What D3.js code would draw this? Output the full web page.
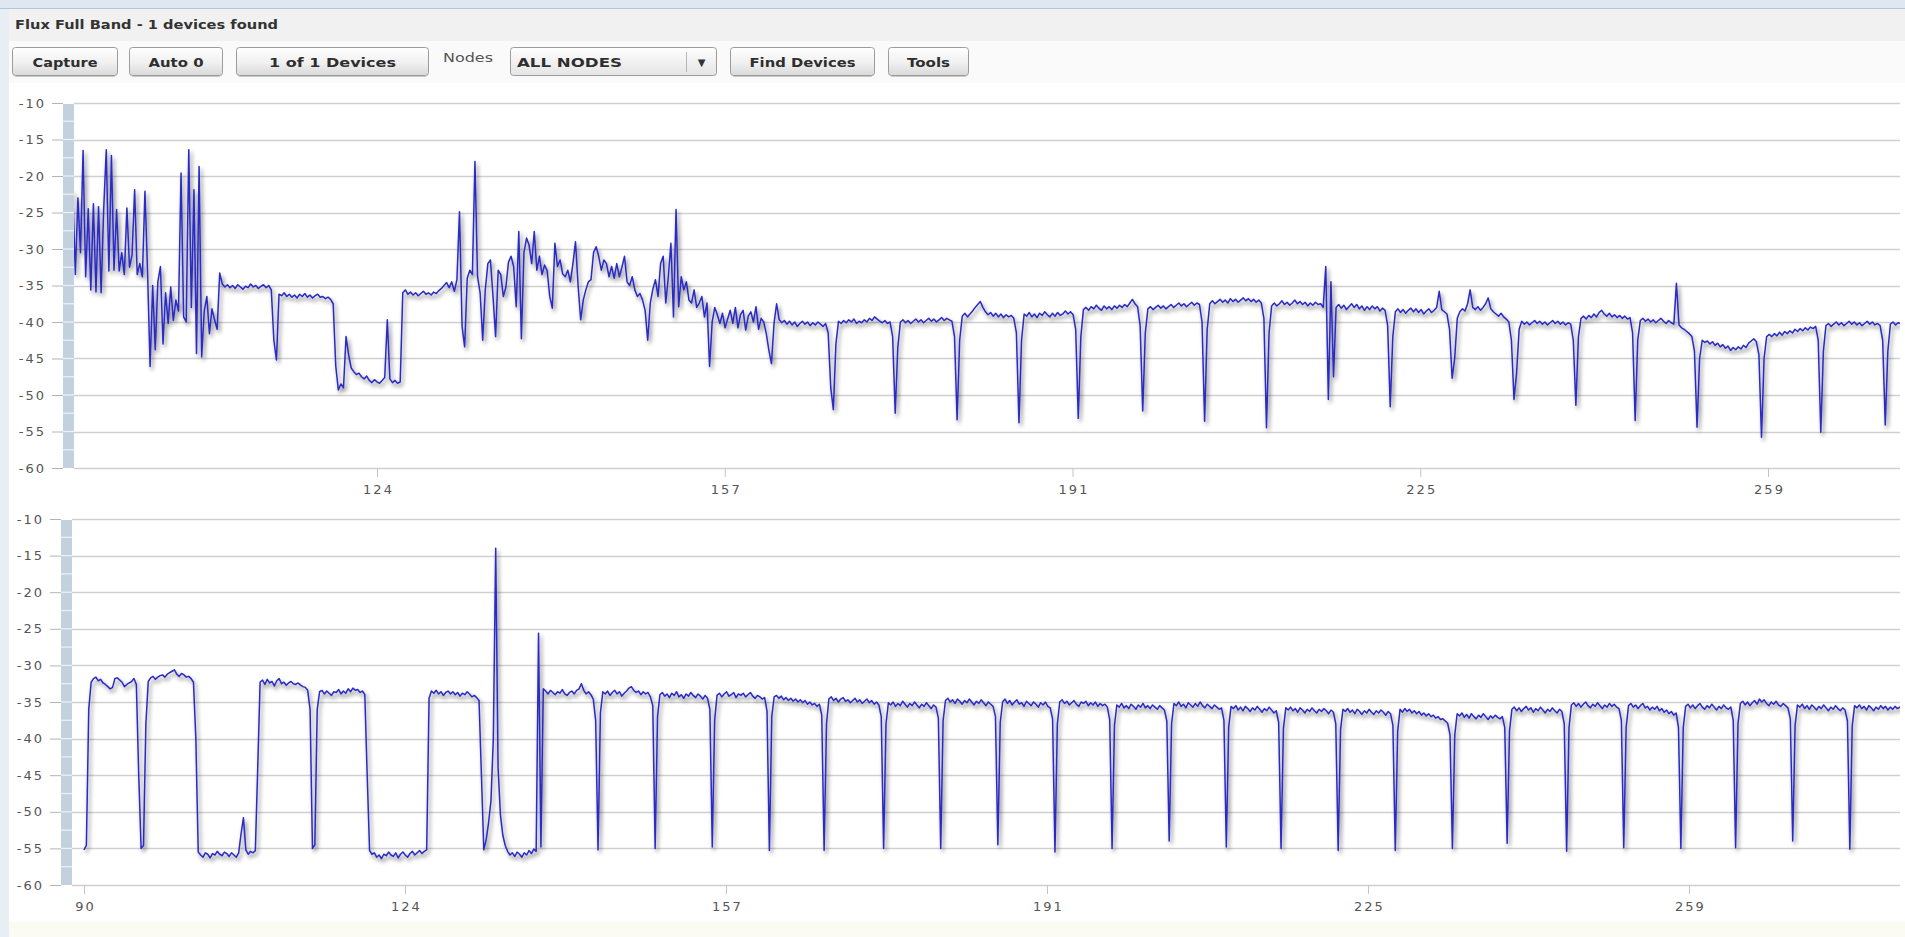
<!DOCTYPE html>
<html><head><meta charset="utf-8">
<script src="https://cdn.jsdelivr.net/npm/d3@7"></script>
<style>
html,body{margin:0;padding:0;background:#fff;overflow:hidden}
svg{display:block}
</style></head><body>
<svg id="c" width="1905" height="937"></svg>
<script>
// ---------------- DATA ----------------
const titleText = "Flux Full Band - 1 devices found";
const buttonLabels = ["Capture", "Auto 0", "1 of 1 Devices", "Find Devices", "Tools"];
const nodesLabel = "Nodes";
const dropdownLabel = "ALL NODES";

const yTickValues = [-10, -15, -20, -25, -30, -35, -40, -45, -50, -55, -60];
const xTickValues = [90, 123.72, 157.44, 191.16, 224.88, 258.6];
const xTickLabels = ["90", "124", "157", "191", "225", "259"];
const sampleStep = 0.25;

// each entry: [x of first sample, samples (dB) every sampleStep]
const topTrace = [
 [94.22, [-22.0,-33.5,-23.0,-30.5,-16.5,-33.8,-24.5,-35.6,-23.8,-35.9,-24.2,-36.0,-24.5,-16.4,-33.0,-17.2,-32.9,-24.6,-33.0,-30.5,-33.5,-24.4,-32.5,-30.8,-21.9,-33.5,-32.0,-33.8,-22.1,-33.0,-46.1,-35.0,-43.8,-34.5,-32.4,-43.0,-36.0,-40.2,-35.2,-39.8,-37.0,-38.5,-19.6,-39.3,-40.0,-16.4,-38.0,-21.9,-44.3,-18.7,-44.8,-38.5,-36.5,-41.6,-38.2,-39.7,-41.0]],
 [108.47, [-33.3,-34.8,-35.2,-34.9,-35.3,-35.0,-35.4,-34.9,-35.2,-35.5,-35.1,-35.3,-34.8,-35.2,-35.0,-35.4,-35.1,-34.9,-35.3,-35.0,-35.6,-42.5,-45.2,-36.2,-36.4,-36.0,-36.5,-36.2,-36.6,-36.3,-36.7,-36.2,-36.5,-36.1,-36.6,-36.3,-36.7,-36.4,-36.2,-36.6,-36.5,-36.8,-36.6,-36.9,-37.5,-46.0,-49.3,-48.5,-49.0,-42.0,-44.5,-46.3,-46.8,-47.2,-47.0,-47.5,-47.8,-47.4,-48.0,-48.3,-47.9,-48.2,-48.4,-48.0,-47.6,-39.7,-47.8,-48.3,-48.0,-48.4,-48.2]],
 [126.22, [-36.0,-35.6,-36.2,-35.9,-36.3,-36.0,-36.4,-36.1,-35.8,-36.2,-36.0,-36.3,-35.9,-36.1,-35.7,-35.4,-35.0,-34.6,-35.3,-34.5,-35.8,-34.2]],
 [131.72, [-24.9,-40.6,-43.4,-34.0,-32.9,-33.5,-18.0,-33.8,-36.0,-42.5,-35.6,-32.0,-31.5,-36.5,-42.0,-32.9,-33.5,-36.5,-35.2,-31.8,-31.0,-32.4,-37.9,-27.6,-42.3,-30.5,-28.5,-29.5,-32.0,-27.6,-32.9,-31.0,-33.5,-32.2,-33.0,-36.5,-38.1,-29.2,-32.4,-31.5,-33.4,-33.8,-32.9,-34.5,-32.0,-29.0,-35.0,-39.7,-37.0,-35.6,-34.5,-34.2,-30.5,-29.7,-31.0,-32.9,-31.5,-32.0,-33.8,-32.4,-34.0,-32.0,-33.8,-32.5,-31.0,-34.5,-35.0,-33.8,-35.6,-36.5,-36.1,-37.0,-38.4,-42.5,-37.4,-35.5,-34.2,-36.5,-32.0,-31.0,-37.4,-33.8,-29.2,-39.3,-24.6,-37.9,-33.8,-35.6,-34.5,-37.0,-37.4,-35.6,-38.0,-37.4,-36.5,-39.3,-37.4,-46.1,-40.0,-38.0,-39.0,-40.2,-38.8,-40.8,-39.6,-38.4,-40.2,-38.0,-40.8,-39.0,-38.4,-41.1,-39.2,-38.6,-40.0,-37.9,-41.0,-39.5,-40.0,-41.6,-43.9,-45.7,-40.2,-37.5]],
 [162.72, [-39.7,-40.1,-39.8,-40.3,-39.9,-40.4,-40.0,-40.6,-40.2,-39.9,-40.3,-40.0,-40.5,-40.1,-40.4,-40.0,-40.3,-40.6,-40.2,-41.5,-49.0]],
 [167.97, [-52.0,-43.0,-39.9,-40.2,-39.8,-40.1,-39.7,-40.0,-39.6,-40.2,-39.9,-40.1,-39.7,-40.0,-39.5,-39.8,-39.3,-39.6,-39.9,-40.1,-39.8,-40.2,-40.0,-42.0]],
 [173.97, [-52.5,-43.5,-40.0,-39.7,-40.1,-39.8,-40.2,-39.9,-39.6,-40.0,-39.7,-40.1,-39.8,-39.5,-39.9,-39.6,-40.0,-39.7,-39.4,-39.8,-39.5,-39.7,-39.9,-42.0]],
 [179.97, [-53.4,-42.5,-39.2,-38.8,-39.3,-38.9,-38.5,-38.0,-37.6,-37.2,-38.0,-38.6,-39.0,-38.7,-39.2,-38.8,-39.3,-38.9,-39.4,-39.0,-39.3,-39.1,-39.5,-41.5]],
 [185.97, [-53.8,-42.5,-38.9,-39.2,-38.7,-39.3,-38.9,-39.4,-38.8,-39.1,-38.6,-39.0,-39.3,-38.8,-39.2,-38.7,-39.1,-38.9,-38.5,-38.9,-38.6,-39.0,-41.0]],
 [191.72, [-53.2,-42.0,-38.3,-38.0,-38.4,-37.9,-38.2,-37.7,-38.1,-38.4,-37.8,-38.2,-37.9,-38.3,-37.8,-38.1,-37.7,-38.0,-37.6,-37.9,-37.4,-36.9,-37.5,-37.9,-40.5]],
 [197.97, [-52.2,-41.5,-38.2,-37.9,-38.3,-38.0,-37.7,-38.1,-37.8,-38.2,-37.9,-37.6,-38.0,-37.7,-37.4,-37.8,-37.5,-37.9,-37.6,-37.3,-37.7,-37.4,-37.6,-40.0]],
 [203.97, [-53.6,-41.0,-37.5,-37.1,-37.5,-37.2,-36.9,-37.3,-37.0,-37.4,-36.8,-37.2,-36.9,-37.3,-37.0,-36.7,-37.1,-36.8,-37.2,-36.9,-37.3,-37.0,-37.4,-39.5]],
 [209.97, [-54.5,-41.5,-37.8,-37.4,-37.8,-37.5,-37.1,-37.6,-37.3,-37.7,-37.4,-37.0,-37.5,-37.2,-37.6,-37.3,-37.8,-37.4,-37.7,-37.3,-37.6,-37.5,-38.0]],
 [215.72, [-32.4,-50.6,-34.5,-47.5,-38.0,-37.6,-38.1,-37.7,-38.3,-37.9,-37.5,-38.0,-37.6,-38.2,-37.8,-38.4,-37.9,-38.3,-37.8,-38.2,-37.9,-38.5,-38.1,-38.4,-40.5]],
 [221.97, [-51.6,-42.0,-38.6,-38.2,-38.7,-38.3,-38.8,-38.4,-38.1,-38.6,-38.2,-38.7,-38.3,-38.9,-38.5,-38.2,-38.7,-38.4,-38.0,-35.8,-38.3,-38.6,-38.9,-41.0]],
 [227.97, [-47.7,-45.0,-39.5,-38.6,-38.2,-38.5,-37.5,-35.6,-38.0,-38.3,-37.9,-38.4,-38.0,-37.5,-36.7,-38.2,-38.6,-38.9,-39.2,-38.8,-39.3,-39.6,-40.0,-42.5]],
 [233.97, [-50.6,-47.0,-41.0,-39.9,-40.3,-40.0,-40.4,-40.1,-39.8,-40.2,-39.9,-40.3,-40.0,-40.4,-40.1,-39.8,-40.2,-39.9,-40.3,-40.0,-40.4,-40.1,-40.3,-42.5]],
 [239.97, [-51.4,-42.0,-39.5,-39.2,-39.6,-39.1,-39.4,-38.9,-39.3,-38.7,-38.4,-38.9,-39.2,-38.8,-39.3,-39.0,-39.4,-39.1,-39.5,-39.2,-39.6,-39.4,-41.5]],
 [245.72, [-53.5,-42.5,-39.8,-39.5,-39.9,-39.6,-40.0,-39.7,-40.1,-39.8,-39.5,-39.9,-40.2,-39.8,-40.1,-40.3,-34.7,-40.4,-40.8,-41.0,-41.3,-41.6,-42.0,-44.0]],
 [251.72, [-54.4,-45.0,-42.5,-42.8,-42.6,-43.0,-42.7,-43.2,-42.9,-43.4,-43.1,-43.6,-43.3,-43.9,-43.5,-43.8,-43.4,-43.7,-43.2,-43.5,-42.9,-42.6,-42.3,-42.7,-44.5]],
 [257.97, [-55.8,-45.0,-42.0,-41.7,-42.0,-41.6,-41.9,-41.4,-41.8,-41.3,-41.6,-41.2,-41.5,-41.0,-41.3,-40.9,-41.2,-40.8,-41.1,-40.7,-40.9,-40.6,-42.5]],
 [263.72, [-55.1,-44.0,-40.5,-40.2,-40.6,-40.3,-40.0,-40.4,-40.1,-40.5,-40.2,-39.9,-40.3,-40.0,-40.4,-40.1,-40.5,-40.2,-39.9,-40.3,-40.0,-40.4,-40.2,-40.5,-42.5]],
 [269.97, [-54.1,-44.0,-40.3,-40.0,-40.4,-40.1,-40.2]]
];

const bottomTrace = [
 [90.0, [-55.2,-54.6,-36.0,-32.3,-31.8,-31.6,-32.1,-31.9,-32.4,-32.6,-32.9,-33.2,-33.0,-31.8,-31.7,-32.0,-32.3,-32.9,-32.6,-32.4,-32.2,-31.8,-32.6,-45.0]],
 [96.0, [-55.0,-54.6,-38.0,-32.2,-31.7,-31.5,-31.9,-31.6,-31.4,-31.3,-31.6,-31.2,-31.0,-30.8,-30.6,-31.2,-31.5,-31.1,-31.3,-31.6,-31.5,-31.8,-32.3,-40.0]],
 [102.0, [-55.5,-55.9,-56.2,-55.6,-55.8,-56.3,-55.7,-55.9,-55.4,-55.8,-56.0,-55.5,-55.7,-56.1,-55.6,-55.9,-56.2,-55.6,-53.0,-50.8,-55.2,-55.8,-55.4,-55.6]],
 [108.0, [-55.3,-44.0,-32.3,-32.0,-32.6,-31.9,-32.4,-32.2,-32.8,-32.1,-31.8,-32.5,-32.3,-32.7,-32.4,-32.2,-32.5,-32.6,-32.4,-32.7,-32.9,-33.0,-33.4,-36.0]],
 [114.0, [-55.0,-54.5,-36.0,-33.6,-33.4,-33.9,-33.5,-33.8,-34.1,-33.6,-33.7,-33.3,-33.9,-33.5,-33.8,-33.2,-33.6,-33.1,-33.4,-33.3,-33.7,-33.5,-34.0,-45.0]],
 [120.0, [-55.3,-55.8,-55.6,-56.2,-55.9,-56.4,-55.8,-56.0,-55.5,-55.9,-56.1,-55.6,-56.3,-55.8,-55.5,-55.9,-56.2,-55.7,-55.4,-55.9,-55.6,-55.3,-55.7,-55.4]],
 [126.0, [-55.2,-34.5,-33.5,-33.8,-33.4,-33.9,-33.6,-34.1,-33.7,-33.5,-33.9,-33.6,-34.0,-33.7,-34.2,-33.8,-34.0,-33.6,-33.9,-34.3,-34.1,-34.4,-34.8,-45.0]],
 [132.0, [-55.2,-53.8,-51.5,-48.5,-40.0,-14.0,-44.0,-50.5,-53.2,-54.6,-55.4,-55.9,-55.6,-56.1,-55.5,-55.8,-56.2,-55.6,-55.9,-55.3,-55.7,-55.1,-55.4,-25.6]],
 [138.0, [-54.8,-33.2,-33.5,-33.9,-33.4,-33.7,-34.0,-33.6,-33.8,-33.3,-33.9,-34.1,-33.7,-33.5,-33.9,-33.4,-33.2,-32.5,-33.4,-33.9,-33.6,-34.0,-34.6,-37.5]],
 [144.0, [-55.2,-36.5,-33.6,-33.9,-33.5,-34.1,-33.7,-33.4,-33.9,-33.6,-34.2,-33.8,-33.5,-33.1,-32.9,-33.4,-33.7,-33.5,-34.0,-33.6,-33.9,-33.7,-34.3,-35.5]],
 [150.0, [-55.0,-37.0,-34.0,-33.7,-34.2,-33.9,-34.4,-33.8,-34.1,-33.6,-34.3,-34.0,-34.5,-33.9,-34.2,-33.7,-34.1,-34.4,-33.9,-34.2,-34.6,-34.1,-34.5,-36.0]],
 [156.0, [-54.8,-37.5,-34.1,-33.8,-34.3,-33.9,-33.6,-34.2,-34.0,-33.7,-34.4,-33.9,-34.1,-33.8,-34.3,-34.0,-33.7,-34.2,-34.5,-34.1,-34.3,-34.6,-34.4,-36.2]],
 [162.0, [-55.3,-37.0,-34.3,-34.1,-34.5,-34.2,-34.7,-34.4,-34.8,-34.5,-34.9,-34.6,-35.0,-34.7,-35.1,-34.8,-35.3,-35.0,-35.4,-35.2,-35.6,-35.3,-36.8]],
 [167.75, [-55.3,-38.0,-34.6,-34.3,-34.8,-34.5,-35.0,-34.6,-34.4,-34.9,-34.7,-35.1,-34.8,-34.5,-35.0,-34.7,-35.2,-34.9,-34.6,-35.1,-34.8,-35.3,-35.0,-35.4,-37.0]],
 [174.0, [-55.0,-38.0,-35.1,-35.4,-35.0,-35.6,-35.2,-35.5,-34.9,-35.3,-35.7,-35.2,-35.5,-35.0,-35.4,-35.8,-35.3,-35.6,-35.1,-35.5,-35.9,-35.4,-35.7,-37.2]],
 [180.0, [-55.0,-37.5,-34.8,-34.5,-35.0,-34.7,-35.2,-34.6,-34.9,-35.3,-34.8,-35.1,-34.6,-35.0,-35.4,-34.9,-35.2,-34.7,-35.1,-35.5,-35.0,-35.3,-35.6,-37.0]],
 [186.0, [-54.5,-37.8,-35.0,-34.6,-35.2,-34.8,-35.4,-35.0,-34.7,-35.3,-35.1,-35.6,-34.9,-35.2,-35.5,-35.0,-35.3,-35.7,-35.1,-35.4,-35.0,-35.6,-35.8,-37.3]],
 [192.0, [-55.5,-38.0,-35.0,-34.7,-35.2,-34.9,-35.4,-35.1,-34.8,-35.3,-35.6,-35.0,-35.2,-34.9,-35.5,-35.1,-35.4,-35.0,-35.6,-35.2,-35.5,-35.3,-35.7,-37.4]],
 [198.0, [-55.0,-38.2,-35.4,-35.7,-35.2,-35.8,-35.5,-35.9,-35.3,-35.6,-36.0,-35.4,-35.7,-35.2,-35.8,-35.5,-35.9,-35.4,-35.7,-36.0,-35.5,-35.8,-36.1,-37.6]],
 [204.0, [-54.0,-38.0,-35.2,-35.5,-35.0,-35.6,-35.3,-35.8,-35.1,-35.4,-35.7,-35.2,-35.6,-35.0,-35.5,-35.8,-35.3,-35.6,-35.9,-35.4,-35.7,-36.0,-35.8,-37.5]],
 [210.0, [-54.8,-38.4,-35.6,-35.9,-35.5,-36.1,-35.7,-36.2,-35.6,-35.9,-36.3,-35.8,-36.1,-35.6,-36.0,-36.4,-35.9,-36.2,-35.7,-36.1,-36.5,-36.2,-37.8]],
 [215.75, [-55.0,-38.6,-35.8,-36.1,-35.7,-36.2,-35.9,-36.4,-35.8,-36.1,-36.5,-36.0,-36.3,-35.8,-36.2,-36.5,-36.0,-36.3,-35.9,-36.2,-36.6,-36.1,-36.4,-38.0]],
 [221.75, [-55.3,-38.8,-36.0,-36.3,-35.9,-36.4,-36.1,-36.6,-36.0,-36.3,-36.7,-36.2,-36.5,-36.0,-36.4,-36.7,-36.2,-36.5,-36.1,-36.4,-36.8,-36.3,-36.6,-38.2]],
 [227.75, [-55.3,-39.0,-36.0,-36.4,-35.9,-36.3,-36.0,-36.5,-36.2,-36.6,-36.3,-36.8,-36.5,-36.9,-36.6,-37.0,-36.8,-37.2,-37.0,-37.4,-37.3,-37.6,-37.9,-39.5]],
 [233.75, [-55.0,-39.5,-36.6,-36.9,-36.5,-37.1,-36.7,-37.2,-36.6,-37.0,-37.3,-36.8,-37.1,-36.6,-37.0,-37.4,-36.9,-37.2,-36.8,-37.1,-37.3,-37.0,-38.5]],
 [239.5, [-54.3,-39.0,-36.0,-35.7,-36.2,-35.8,-36.3,-35.9,-35.6,-36.1,-35.8,-36.4,-35.9,-36.2,-35.7,-36.1,-36.5,-36.0,-36.3,-35.8,-36.2,-36.5,-36.0,-36.3,-38.0]],
 [245.75, [-55.4,-38.5,-35.4,-35.1,-35.6,-35.2,-35.7,-35.3,-35.0,-35.5,-35.8,-35.3,-35.6,-35.1,-35.5,-35.9,-35.4,-35.7,-35.2,-35.6,-35.3,-35.7,-35.9,-37.5]],
 [251.75, [-54.9,-38.5,-35.5,-35.2,-35.7,-35.4,-35.9,-35.5,-35.2,-35.8,-35.6,-36.1,-35.7,-36.0,-35.6,-36.2,-35.9,-36.4,-36.1,-36.6,-36.3,-36.8,-36.5,-38.5]],
 [257.75, [-55.0,-38.5,-35.6,-35.3,-35.8,-35.4,-35.9,-35.5,-35.2,-35.7,-36.0,-35.5,-35.8,-35.3,-35.7,-36.1,-35.6,-35.9,-35.4,-35.8,-36.0,-35.7,-37.5]],
 [263.5, [-54.9,-38.0,-35.2,-34.9,-35.4,-35.0,-35.5,-35.1,-34.8,-35.3,-34.6,-35.0,-34.7,-35.2,-35.5,-35.0,-35.3,-34.9,-35.4,-35.6,-35.2,-35.5,-35.8,-37.3]],
 [269.5, [-54.0,-38.2,-35.4,-35.7,-35.3,-35.9,-35.5,-36.0,-35.4,-35.7,-36.1,-35.6,-35.9,-35.4,-35.8,-36.2,-35.7,-36.0,-35.5,-35.9,-36.2,-35.8,-36.1,-37.6]],
 [275.5, [-55.1,-38.3,-35.5,-35.8,-35.4,-35.9,-35.6,-36.1,-35.5,-35.8,-36.2,-35.7,-36.0,-35.5,-35.9,-35.6,-36.1,-35.7,-36.0,-35.6,-35.9,-35.7,-36.0]]
];

// ---------------- LAYOUT ----------------
const charts = [
  {trace: topTrace, xDomain: [94.34, 271.4], left: 74, right: 1900, top: 103, bottom: 468, barX: 63},
  {trace: bottomTrace, xDomain: [88.74, 280.77], left: 72, right: 1900, top: 519, bottom: 885, barX: 61}
];
// widths measured on the reference for each text run
const buttonBoxes = [{x:12,w:105,tw:65},{x:129,w:93,tw:55},{x:236,w:192,tw:127},{x:730,w:144,tw:106},{x:888,w:80,tw:43}];

const FONT_UI = "'DejaVu Sans',Verdana,sans-serif";
const FONT_AX = "'DejaVu Sans',Verdana,sans-serif";

const svg = d3.select('#c');
const defs = svg.append('defs');
const g1 = defs.append('linearGradient').attr('id','btnGrad').attr('x1',0).attr('y1',0).attr('x2',0).attr('y2',1);
g1.append('stop').attr('offset','0%').attr('stop-color','#ffffff');
g1.append('stop').attr('offset','55%').attr('stop-color','#f0f0f0');
g1.append('stop').attr('offset','100%').attr('stop-color','#d9d9d9');
const g2 = defs.append('linearGradient').attr('id','ddGrad').attr('x1',0).attr('y1',0).attr('x2',0).attr('y2',1);
g2.append('stop').attr('offset','0%').attr('stop-color','#ffffff');
g2.append('stop').attr('offset','100%').attr('stop-color','#e4e4e4');

const f = defs.append('filter').attr('id','shadow').attr('filterUnits','userSpaceOnUse')
  .attr('x',0).attr('y',0).attr('width',1905).attr('height',937);
f.append('feGaussianBlur').attr('in','SourceAlpha').attr('stdDeviation',2).attr('result','b');
f.append('feOffset').attr('in','b').attr('dx',2).attr('dy',3).attr('result','o');
const ct = f.append('feComponentTransfer').attr('in','o').attr('result','o2');
ct.append('feFuncA').attr('type','linear').attr('slope',0.55);
const fm = f.append('feMerge');
fm.append('feMergeNode').attr('in','o2');
fm.append('feMergeNode').attr('in','SourceGraphic');

// ---------- page chrome ----------
svg.append('rect').attr('x',0).attr('y',0).attr('width',1905).attr('height',937).attr('fill','#ffffff');
svg.append('rect').attr('x',0).attr('y',0).attr('width',1905).attr('height',8).attr('fill','#dfe8f2');
svg.append('line').attr('x1',0).attr('x2',1905).attr('y1',8.5).attr('y2',8.5).attr('stroke','#b3c5d8');
svg.append('rect').attr('x',0).attr('y',9).attr('width',1905).attr('height',32).attr('fill','#f1f1f1');
svg.append('rect').attr('x',0).attr('y',41).attr('width',1905).attr('height',42).attr('fill','#fafafa');
svg.append('rect').attr('x',0).attr('y',9).attr('width',9).attr('height',928).attr('fill','#e8eef4');
svg.append('rect').attr('x',9).attr('y',922).attr('width',1896).attr('height',15).attr('fill','#fcfbf3');

svg.append('text').attr('x',15).attr('y',29).text(titleText)
  .attr('textLength',263).attr('lengthAdjust','spacingAndGlyphs')
  .attr('font-family',FONT_UI).attr('font-weight','bold').attr('font-size',13).attr('fill','#333');

// buttons
buttonBoxes.forEach((b,i) => {
  const gb = svg.append('g');
  gb.append('rect').attr('x',b.x+0.5).attr('y',47.5).attr('width',b.w).attr('height',28).attr('rx',3)
    .attr('fill','url(#btnGrad)').attr('stroke','#9c9c9c');
  gb.append('line').attr('x1',b.x+3).attr('x2',b.x+b.w-2).attr('y1',76.5).attr('y2',76.5).attr('stroke','#c8c8c8');
  gb.append('text').attr('x',b.x+0.5+(b.w-b.tw)/2).attr('y',66.5)
    .attr('textLength',b.tw).attr('lengthAdjust','spacingAndGlyphs')
    .text(buttonLabels[i]).attr('font-family',FONT_UI).attr('font-weight','bold').attr('font-size',13).attr('fill','#2e2e2e');
});
svg.append('text').attr('x',443).attr('y',62).text(nodesLabel)
  .attr('textLength',50).attr('lengthAdjust','spacingAndGlyphs')
  .attr('font-family',FONT_UI).attr('font-size',13).attr('fill','#555');
svg.append('rect').attr('x',510.5).attr('y',47.5).attr('width',206).attr('height',28).attr('rx',3)
  .attr('fill','url(#ddGrad)').attr('stroke','#9c9c9c');
svg.append('line').attr('x1',686.5).attr('x2',686.5).attr('y1',52).attr('y2',72).attr('stroke','#b5b5b5');
svg.append('text').attr('x',517).attr('y',66.5).text(dropdownLabel)
  .attr('textLength',105).attr('lengthAdjust','spacingAndGlyphs')
  .attr('font-family',FONT_UI).attr('font-weight','bold').attr('font-size',13).attr('fill','#2e2e2e');
svg.append('text').attr('x',701.5).attr('y',65.5).attr('text-anchor','middle').text('\u25BC')
  .attr('font-family',FONT_AX).attr('font-size',10).attr('fill','#333');

// ---------- charts ----------
const minorStripes = [];
for (let i = 1; i < 20; i++) minorStripes.push(-10 - i * 2.5);

charts.forEach((c, ci) => {
  const x = d3.scaleLinear().domain(c.xDomain).range([c.left, c.right]);
  const y = d3.scaleLinear().domain([-60, -10]).range([c.bottom, c.top]);
  const g = svg.append('g');

  // gridlines
  g.append('g').selectAll('line').data(yTickValues).join('line')
    .attr('x1', c.left).attr('x2', c.right)
    .attr('y1', d => Math.round(y(d)) + 0.5).attr('y2', d => Math.round(y(d)) + 0.5)
    .attr('stroke', '#d0d0d0').attr('stroke-width', 1.7);

  // side bar
  g.append('rect').attr('x', c.barX).attr('y', c.top + 1).attr('width', c.left - c.barX)
    .attr('height', c.bottom - c.top - 1).attr('fill', '#c3d1de');
  g.append('g').selectAll('line').data(minorStripes).join('line')
    .attr('x1', c.barX).attr('x2', c.left).attr('y1', d => y(d)).attr('y2', d => y(d))
    .attr('stroke', '#eef2f6').attr('stroke-width', 1.2);

  // y axis
  const ya = g.append('g').attr('transform', `translate(${c.barX},0)`)
    .call(d3.axisLeft(y).tickValues(yTickValues).tickSize(11).tickPadding(6).tickFormat(d => String(d)));
  ya.select('.domain').remove();
  ya.selectAll('.tick line').attr('stroke', '#b4b4b4');
  ya.selectAll('.tick text').attr('font-family', FONT_AX).attr('font-size', 13)
    .attr('fill', '#555').attr('letter-spacing', '2px');

  // x axis
  const dom = x.domain();
  const vis = xTickValues.map((v, i) => ({v, l: xTickLabels[i]})).filter(t => t.v >= dom[0] && t.v <= dom[1]);
  const xa = g.append('g').attr('transform', `translate(0,${c.bottom})`)
    .call(d3.axisBottom(x).tickValues(vis.map(t => t.v)).tickSize(9).tickPadding(8)
      .tickFormat((d, i) => vis[i].l));
  xa.select('.domain').remove();
  xa.selectAll('.tick line').attr('stroke', '#c4c4c4');
  xa.selectAll('.tick text').attr('font-family', FONT_AX).attr('font-size', 13)
    .attr('fill', '#555').attr('letter-spacing', '2px').attr('dx', '1px');

  // trace
  const pts = [];
  c.trace.forEach(([x0, vals]) => vals.forEach((v, j) => pts.push([x0 + j * sampleStep, v])));
  const clipId = 'clip' + ci;
  defs.append('clipPath').attr('id', clipId).append('rect')
    .attr('x', c.left).attr('y', c.top - 5).attr('width', c.right - c.left).attr('height', c.bottom - c.top + 12);
  const line = d3.line().x(d => x(d[0])).y(d => y(d[1]));
  g.append('g').attr('clip-path', `url(#${clipId})`)
    .append('path').datum(pts).attr('d', line)
    .attr('fill', 'none').attr('stroke', '#2a2ac4').attr('stroke-width', 1.5)
    .attr('stroke-linejoin', 'round').attr('filter', 'url(#shadow)');
});
</script>
</body></html>
